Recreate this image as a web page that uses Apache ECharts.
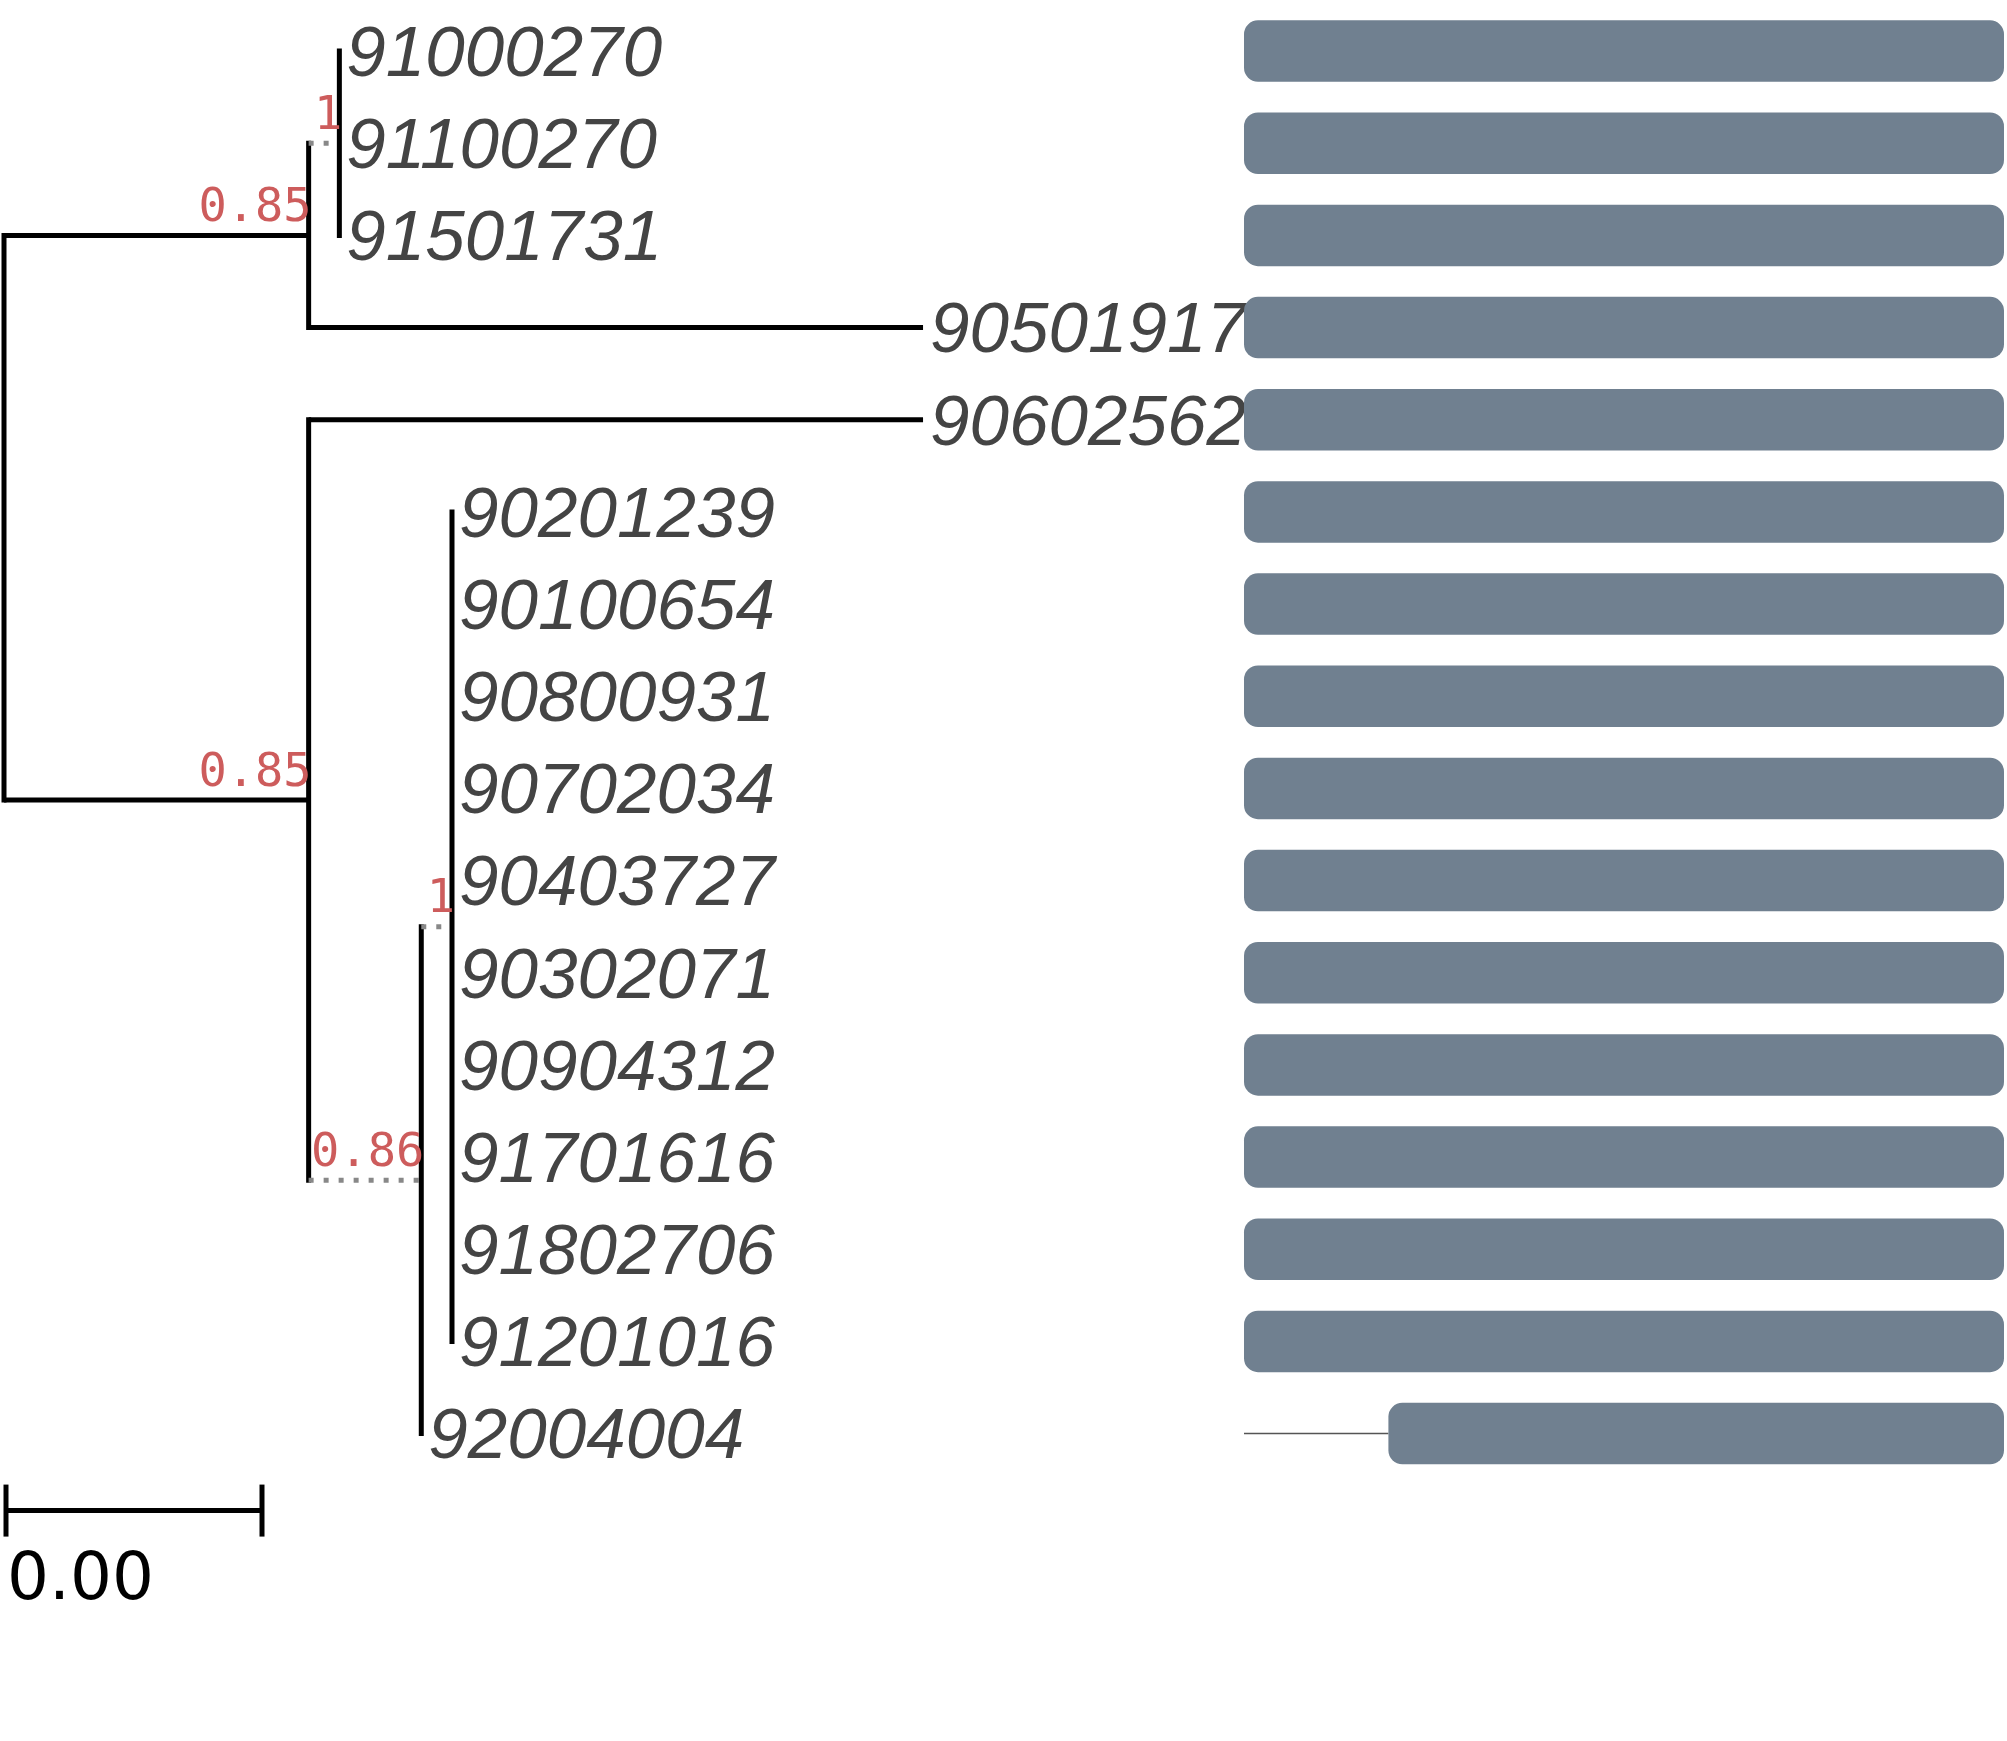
<!DOCTYPE html>
<html>
<head>
    <meta charset="utf-8">
    <title>tree</title>
    <script src="https://cdn.jsdelivr.net/npm/echarts@6/dist/echarts.min.js"></script>
    <style>
        html, body { margin: 0; padding: 0; background: #fff; }
    </style>
</head>
<body>
    <div id="main" style="width: 2007px; height: 1741px;"></div>
    <script type="text/javascript">

        // leaves, top to bottom
        var leafNames = ['91000270', '91100270', '91501731', '90501917', '90602562',
            '90201239', '90100654', '90800931', '90702034', '90403727', '90302071',
            '90904312', '91701616', '91802706', '91201016', '92004004'];
        var leafParent = ['n3', 'n3', 'n3', 'n1', 'n2',
            'n5', 'n5', 'n5', 'n5', 'n5', 'n5',
            'n5', 'n5', 'n5', 'n5', 'n4'];
        var leafLength = [0, 0, 0, 0.0024, 0.0024,
            0, 0, 0, 0, 0, 0,
            0, 0, 0, 0, 0];

        // internal nodes
        var cladeNames = ['root', 'n1', 'n2', 'n3', 'n4', 'n5'];
        var cladeParent = [null, 'root', 'root', 'n1', 'n2', 'n4'];
        var cladeLength = [0, 0.00119, 0.00119, 0.00012, 0.00044, 0.00012];
        var cladeSupport = [null, 0.85, 0.85, 1, 0.86, 1];

        // alignment column
        var seqStart = [0, 0, 0, 0, 0, 0, 0, 0, 0, 0, 0, 0, 0, 0, 0, 95];
        var seqEnd = [500, 500, 500, 500, 500, 500, 500, 500, 500, 500, 500, 500, 500, 500, 500, 500];

        var scaleLength = 0.001;
        var dottedClades = ['n3', 'n4', 'n5'];

        // ---- layout (x = distance from root, y = row) ----
        var nodes = {};
        cladeNames.forEach(function (name, i) {
            nodes[name] = {name: name, parent: cladeParent[i], len: cladeLength[i],
                support: cladeSupport[i], leaf: false, children: []};
        });
        leafNames.forEach(function (name, i) {
            nodes[name] = {name: name, parent: leafParent[i], len: leafLength[i],
                leaf: true, y: i, children: []};
        });
        Object.keys(nodes).forEach(function (k) {
            var n = nodes[k];
            if (n.parent) nodes[n.parent].children.push(n);
        });
        function place(n, px) {
            n.px = px;
            n.x = (px === null ? 0 : px) + n.len;
            if (!n.leaf) {
                var ys = n.children.map(function (c) { return place(c, n.x); });
                n.minY = Math.min.apply(null, ys);
                n.maxY = Math.max.apply(null, ys);
                n.y = (n.minY + n.maxY) / 2;
            }
            return n.y;
        }
        place(nodes.root, null);
        var nodeList = Object.keys(nodes).map(function (k) { return nodes[k]; });

        var myChart = echarts.init(document.getElementById('main'));

        var yAxisBase = {
            type: 'value', inverse: true, min: -0.5, max: 17.5, show: false
        };

        option = {
            backgroundColor: '#fff',
            animation: false,
            grid: [
                {left: 4, top: 5, width: 1024, height: 1659},
                {left: 1244, top: 5, width: 760, height: 1659}
            ],
            xAxis: [
                {type: 'value', gridIndex: 0, min: 0, max: 0.004, show: false},
                {type: 'value', gridIndex: 1, min: 0, max: 500, show: false}
            ],
            yAxis: [
                Object.assign({gridIndex: 0}, yAxisBase),
                Object.assign({gridIndex: 1}, yAxisBase)
            ],
            series: [
                {
                    type: 'custom',
                    xAxisIndex: 0,
                    yAxisIndex: 0,
                    z: 2,
                    data: nodeList.map(function (n) { return [n.x, n.y]; }),
                    renderItem: function (params, api) {
                        var n = nodeList[params.dataIndex];
                        var p = api.coord([n.x, n.y]);
                        var kids = [];
                        if (n.px !== null && n.x > n.px) {
                            var pp = api.coord([n.px, n.y]);
                            var dotted = dottedClades.indexOf(n.name) >= 0;
                            kids.push({
                                type: 'line',
                                shape: {x1: pp[0], y1: p[1], x2: p[0], y2: p[1]},
                                style: dotted
                                    ? {stroke: '#888', lineWidth: 5, lineDash: [5, 10]}
                                    : {stroke: '#000', lineWidth: 5}
                            });
                        }
                        if (!n.leaf) {
                            var a = api.coord([n.x, n.minY]);
                            var b = api.coord([n.x, n.maxY]);
                            kids.push({
                                type: 'line',
                                shape: {x1: a[0], y1: a[1] - 2.5, x2: b[0], y2: b[1] + 2.5},
                                style: {stroke: '#000', lineWidth: 5}
                            });
                            if (n.support !== null) {
                                kids.push({
                                    type: 'text',
                                    x: p[0] + 3,
                                    y: p[1] - 3,
                                    z2: 5,
                                    style: {
                                        text: String(n.support),
                                        fill: '#cd5c5c',
                                        font: '47px "DejaVu Sans Mono", monospace',
                                        align: 'right',
                                        verticalAlign: 'bottom'
                                    }
                                });
                            }
                        } else {
                            kids.push({
                                type: 'text',
                                x: p[0] + 7,
                                y: p[1] + 5,
                                style: {
                                    text: n.name,
                                    fill: '#444',
                                    font: 'italic 71px "Liberation Sans", Arial, sans-serif',
                                    align: 'left',
                                    verticalAlign: 'middle'
                                }
                            });
                        }
                        return {type: 'group', children: kids};
                    }
                },
                {
                    // scale bar
                    type: 'custom',
                    xAxisIndex: 0,
                    yAxisIndex: 0,
                    data: [[scaleLength, leafNames.length - 1]],
                    renderItem: function (params, api) {
                        var a = api.coord([0, api.value(1)]);
                        var b = api.coord([api.value(0), api.value(1)]);
                        var y = a[1] + 77;
                        var st = {stroke: '#000', lineWidth: 5};
                        return {
                            type: 'group',
                            children: [
                                {type: 'line', shape: {x1: a[0] + 2, y1: y, x2: b[0] + 2, y2: y}, style: st},
                                {type: 'line', shape: {x1: a[0] + 2, y1: y - 26, x2: a[0] + 2, y2: y + 26}, style: st},
                                {type: 'line', shape: {x1: b[0] + 2, y1: y - 26, x2: b[0] + 2, y2: y + 26}, style: st},
                                {
                                    type: 'text', x: a[0] + 3, y: y + 71,
                                    style: {
                                        text: scaleLength.toFixed(2),
                                        fill: '#000',
                                        font: '66px "DejaVu Sans", sans-serif',
                                        align: 'left',
                                        verticalAlign: 'middle'
                                    }
                                }
                            ]
                        };
                    }
                },
                {
                    // alignment bars
                    type: 'custom',
                    xAxisIndex: 1,
                    yAxisIndex: 1,
                    z: 5,
                    data: leafNames.map(function (name, i) { return [seqStart[i], seqEnd[i], i]; }),
                    renderItem: function (params, api) {
                        var row = api.value(2);
                        var s = api.coord([api.value(0), row]);
                        var e = api.coord([api.value(1), row]);
                        var z0 = api.coord([0, row]);
                        var h = 61.5;
                        var kids = [{
                            type: 'rect',
                            shape: {x: s[0], y: s[1] - h / 2, width: e[0] - s[0], height: h, r: 14},
                            style: {fill: '#708090'}
                        }];
                        if (s[0] > z0[0]) {
                            kids.unshift({
                                type: 'line',
                                shape: {x1: z0[0], y1: s[1], x2: s[0], y2: s[1]},
                                style: {stroke: '#555', lineWidth: 1.5}
                            });
                        }
                        return {type: 'group', children: kids};
                    }
                }
            ]
        };

        myChart.setOption(option);

    </script>
</body>
</html>
